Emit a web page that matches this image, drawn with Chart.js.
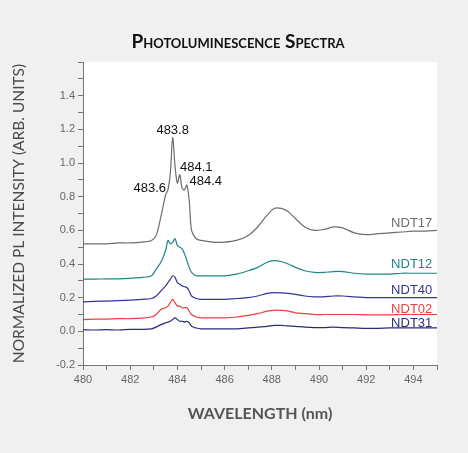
<!DOCTYPE html>
<html>
<head>
<meta charset="utf-8">
<script src="https://cdn.jsdelivr.net/npm/chart.js@4/dist/chart.umd.min.js"></script>
<style>
  body { margin: 0; background: #f0f0f0; }
  #wrap { width: 468px; height: 453px; }
</style>
</head>
<body>
<div id="wrap"><canvas id="myChart" width="468" height="453"></canvas></div>
<script>
const wavelength = [480, 480.5, 481, 481.5, 482, 482.5, 482.9, 483.1, 483.3, 483.5, 483.6, 483.7, 483.8, 483.9, 484.0, 484.1, 484.2, 484.3, 484.4, 484.5, 484.6, 484.8, 485, 485.5, 486, 486.5, 487, 487.4, 487.8, 488.1, 488.4, 488.7, 489, 489.4, 489.8, 490.2, 490.6, 491, 491.5, 492, 492.5, 493, 493.5, 494, 494.5, 495];

const ndt17 = [0.52, 0.52, 0.52, 0.525, 0.525, 0.53, 0.54, 0.57, 0.68, 0.81, 0.84, 0.94, 1.15, 0.98, 0.88, 0.93, 0.85, 0.84, 0.87, 0.78, 0.6, 0.55, 0.54, 0.53, 0.53, 0.54, 0.57, 0.62, 0.69, 0.73, 0.73, 0.71, 0.67, 0.62, 0.6, 0.605, 0.62, 0.615, 0.585, 0.575, 0.58, 0.585, 0.59, 0.595, 0.595, 0.6];
const ndt12 = [0.31, 0.31, 0.312, 0.312, 0.315, 0.32, 0.33, 0.37, 0.41, 0.48, 0.54, 0.52, 0.53, 0.55, 0.51, 0.5, 0.49, 0.46, 0.42, 0.38, 0.35, 0.33, 0.33, 0.33, 0.33, 0.34, 0.36, 0.38, 0.41, 0.42, 0.415, 0.4, 0.38, 0.36, 0.35, 0.35, 0.355, 0.355, 0.345, 0.34, 0.34, 0.34, 0.345, 0.345, 0.345, 0.345];
const ndt40 = [0.175, 0.178, 0.18, 0.182, 0.185, 0.19, 0.195, 0.21, 0.24, 0.27, 0.29, 0.31, 0.33, 0.32, 0.29, 0.28, 0.27, 0.265, 0.26, 0.24, 0.21, 0.195, 0.19, 0.19, 0.19, 0.195, 0.2, 0.21, 0.225, 0.23, 0.228, 0.225, 0.22, 0.21, 0.205, 0.205, 0.21, 0.21, 0.205, 0.2, 0.2, 0.2, 0.2, 0.2, 0.2, 0.2];
const ndt02 = [0.07, 0.072, 0.073, 0.075, 0.075, 0.078, 0.085, 0.1, 0.13, 0.14, 0.15, 0.17, 0.19, 0.17, 0.15, 0.15, 0.14, 0.14, 0.14, 0.12, 0.1, 0.085, 0.08, 0.08, 0.08, 0.085, 0.095, 0.105, 0.12, 0.125, 0.125, 0.12, 0.11, 0.105, 0.1, 0.1, 0.1, 0.1, 0.1, 0.098, 0.098, 0.098, 0.1, 0.1, 0.1, 0.1];
const ndt31 = [0.01, 0.008, 0.01, 0.008, 0.012, 0.012, 0.015, 0.025, 0.04, 0.05, 0.055, 0.06, 0.07, 0.08, 0.07, 0.06, 0.06, 0.055, 0.06, 0.05, 0.03, 0.02, 0.015, 0.015, 0.015, 0.015, 0.02, 0.025, 0.03, 0.035, 0.035, 0.032, 0.03, 0.025, 0.022, 0.022, 0.025, 0.022, 0.02, 0.018, 0.018, 0.02, 0.02, 0.02, 0.02, 0.02];

const seriesNames = ["NDT17", "NDT12", "NDT40", "NDT02", "NDT31"];
const seriesColors = ["#6e6e6e", "#1f8585", "#33339a", "#f03c3c", "#2a2a80"];
const seriesValues = [ndt17, ndt12, ndt40, ndt02, ndt31];
// label anchor (right edge, baseline): [wavelength, value]
const labelAnchors = [[494.8, 0.62], [494.8, 0.375], [494.8, 0.22], [494.8, 0.11], [494.8, 0.028]];

const peakLabels = ["483.6", "483.8", "484.1", "484.4"];
const peakAnchors = [[482.83, 0.83], [483.8, 1.17], [484.8, 0.95], [485.2, 0.87]];

const xTicks = [480, 482, 484, 486, 488, 490, 492, 494];

const ctx = document.getElementById("myChart").getContext("2d");

const datasets = seriesValues.map((vals, i) => ({
  label: seriesNames[i],
  data: wavelength.map((w, j) => ({ x: w, y: vals[j] })),
  borderColor: seriesColors[i],
  borderWidth: 1.2,
  pointRadius: 0,
  tension: 0.3,
}));

const decorations = {
  id: "decorations",
  beforeDraw(chart) {
    const { ctx, chartArea } = chart;
    ctx.save();
    ctx.fillStyle = "#ffffff";
    ctx.fillRect(chartArea.left, chartArea.top, chartArea.right - chartArea.left, chartArea.bottom - chartArea.top);
    ctx.restore();
  },
  afterDraw(chart) {
    const { ctx, scales } = chart;
    const x = scales.x, y = scales.y;
    ctx.save();
    ctx.font = "13px Liberation Sans";
    ctx.textAlign = "right";
    ctx.textBaseline = "alphabetic";
    labelAnchors.forEach((a, i) => {
      ctx.fillStyle = seriesColors[i];
      ctx.fillText(seriesNames[i], x.getPixelForValue(a[0]), y.getPixelForValue(a[1]));
    });
    ctx.fillStyle = "#111";
    ctx.font = "13px Liberation Sans";
    ctx.textAlign = "center";
    peakLabels.forEach((t, i) => {
      ctx.fillText(t, x.getPixelForValue(peakAnchors[i][0]), y.getPixelForValue(peakAnchors[i][1]));
    });
    // title
    ctx.fillStyle = "#111";
    ctx.font = "bold 19px Lato";
    ctx.fontVariantCaps = "small-caps";
    ctx.fillText("Photoluminescence Spectra", 238, 48);
    ctx.restore();
  },
};

const config = {
  type: "line",
  data: { datasets },
  options: {
    responsive: false,
    animation: false,
    layout: { padding: { top: 62, right: 31, left: 6, bottom: 26 } },
    plugins: { legend: { display: false }, tooltip: { enabled: false } },
    scales: {
      x: {
        type: "linear",
        min: 480,
        max: 495,
        afterFit: (s) => { s.height = 62; },
        afterBuildTicks: (s) => {
          const t = [];
          for (let v = 480; v <= 495; v++) t.push({ value: v });
          s.ticks = t;
        },
        ticks: {
          color: "#666",
          font: { size: 11, family: "Liberation Sans" },
          maxRotation: 0,
          autoSkip: false,
          callback: (v) => (xTicks.includes(v) ? String(v) : ""),
        },
        grid: { drawOnChartArea: false, tickLength: 5, tickColor: "#777" },
        border: { color: "#777" },
        title: {
          display: true,
          text: "WAVELENGTH (nm)",
          color: "#555",
          font: { size: 16, weight: "bold", family: "Lato" },
          padding: { top: 12 },
        },
      },
      y: {
        min: -0.2,
        max: 1.6,
        afterFit: (s) => { s.width = 77; },
        afterBuildTicks: (s) => {
          const t = [];
          for (let k = -2; k <= 16; k++) t.push({ value: k / 10 });
          s.ticks = t;
        },
        ticks: {
          color: "#666",
          font: { size: 11, family: "Liberation Sans" },
          autoSkip: false,
          callback: (v) => {
            const k = Math.round(v * 10);
            return k % 2 === 0 && k < 16 ? (k / 10).toFixed(1) : "";
          },
        },
        grid: { drawOnChartArea: false, tickLength: 5, tickColor: "#777" },
        border: { color: "#777" },
        title: {
          display: true,
          text: "NORMALIZED PL INTENSITY (ARB. UNITS)",
          color: "#4a4a4a",
          font: { size: 15.5, family: "Lato" },
          padding: { bottom: 3 },
        },
      },
    },
  },
  plugins: [decorations],
};

const myChart = new Chart(ctx, config);
</script>
</body>
</html>
